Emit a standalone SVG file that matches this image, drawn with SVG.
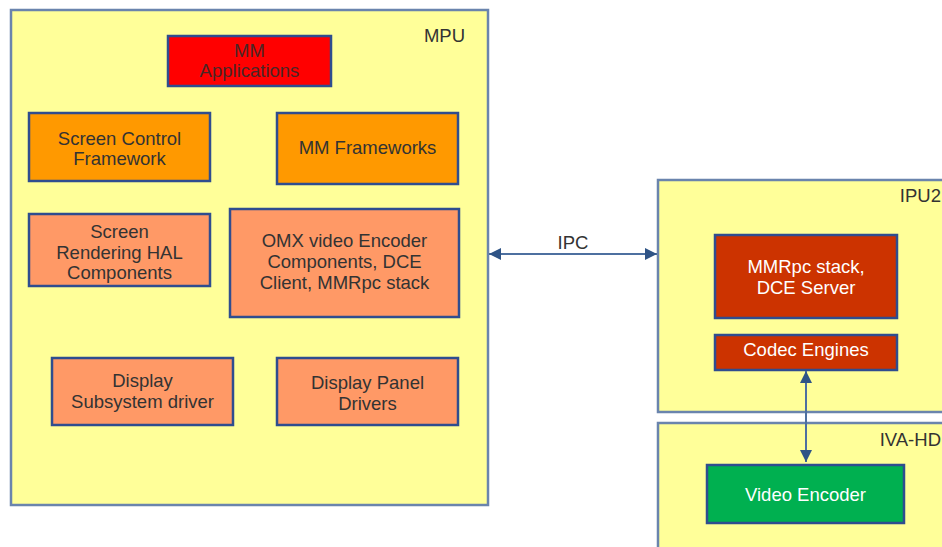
<svg xmlns="http://www.w3.org/2000/svg" width="942" height="547" viewBox="0 0 942 547">
<defs>
<style>
.cont{fill:#ffff99;stroke:#6a84ad;stroke-width:2.5}
.box{stroke:#2f4d8f;stroke-width:2.5}
.red{fill:#ff0000}
.org{fill:#ff9900}
.sal{fill:#ff9966}
.dred{fill:#cc3300}
.grn{fill:#00b050}
text{font-family:"Liberation Sans",Arial,sans-serif;font-size:18.5px;fill:#333333;text-anchor:middle}
.redtxt{fill:#4a2626}
.w{fill:#ffffff}
.lbl{text-anchor:end}
.conn{stroke:#4d70a0;stroke-width:2;fill:none}
</style>
<marker id="ah" viewBox="0 0 12 12" refX="12" refY="6" markerWidth="12" markerHeight="12" markerUnits="userSpaceOnUse" orient="auto-start-reverse">
<path d="M0,0 L12,6 L0,12 Z" fill="#2f5486"/>
</marker>
</defs>
<rect width="942" height="547" fill="#ffffff"/>
<g id="mpu">
<rect class="cont" x="11" y="10" width="477" height="495"/>
<text class="lbl" x="465" y="42">MPU</text>
</g>
<g id="ipu2">
<rect class="cont" x="658" y="180" width="290" height="232"/>
<text class="lbl" x="941" y="202">IPU2</text>
</g>
<g id="ivahd">
<rect class="cont" x="658" y="423" width="290" height="130"/>
<text class="lbl" x="941" y="446">IVA-HD</text>
</g>
<g id="mm-apps">
<rect class="box red" x="168" y="36" width="163" height="50"/>
<text class="redtxt" x="249.5" y="57">MM</text>
<text class="redtxt" x="249.5" y="77">Applications</text>
</g>
<g id="screen-control">
<rect class="box org" x="29" y="113" width="181" height="68"/>
<text x="119.5" y="145">Screen Control</text>
<text x="119.5" y="165">Framework</text>
</g>
<g id="mm-frameworks">
<rect class="box org" x="277" y="113" width="181" height="71"/>
<text x="367.5" y="154">MM Frameworks</text>
</g>
<g id="screen-rendering">
<rect class="box sal" x="29" y="214" width="181" height="72"/>
<text x="119.5" y="238">Screen</text>
<text x="119.5" y="259">Rendering HAL</text>
<text x="119.5" y="279">Components</text>
</g>
<g id="omx">
<rect class="box sal" x="230" y="209" width="229" height="108"/>
<text x="344.5" y="247">OMX video Encoder</text>
<text x="344.5" y="268">Components, DCE</text>
<text x="344.5" y="289">Client, MMRpc stack</text>
</g>
<g id="display-subsystem">
<rect class="box sal" x="52" y="358" width="181" height="67"/>
<text x="142.5" y="387">Display</text>
<text x="142.5" y="408">Subsystem driver</text>
</g>
<g id="display-panel">
<rect class="box sal" x="277" y="358" width="181" height="67"/>
<text x="367.5" y="389">Display Panel</text>
<text x="367.5" y="410">Drivers</text>
</g>
<g id="mmrpc">
<rect class="box dred" x="715" y="235" width="182" height="83"/>
<text class="w" x="806" y="273">MMRpc stack,</text>
<text class="w" x="806" y="294">DCE Server</text>
</g>
<g id="codec">
<rect class="box dred" x="715" y="335" width="182" height="35"/>
<text class="w" x="806" y="356">Codec Engines</text>
</g>
<g id="video-encoder">
<rect class="box grn" x="707" y="465" width="197" height="58"/>
<text class="w" x="805.5" y="501">Video Encoder</text>
</g>
<g id="connectors">
<line class="conn" x1="489" y1="254" x2="657" y2="254" marker-start="url(#ah)" marker-end="url(#ah)"/>
<text x="573" y="249">IPC</text>
<line class="conn" x1="806" y1="371" x2="806" y2="462" marker-start="url(#ah)" marker-end="url(#ah)"/>
</g>
</svg>
